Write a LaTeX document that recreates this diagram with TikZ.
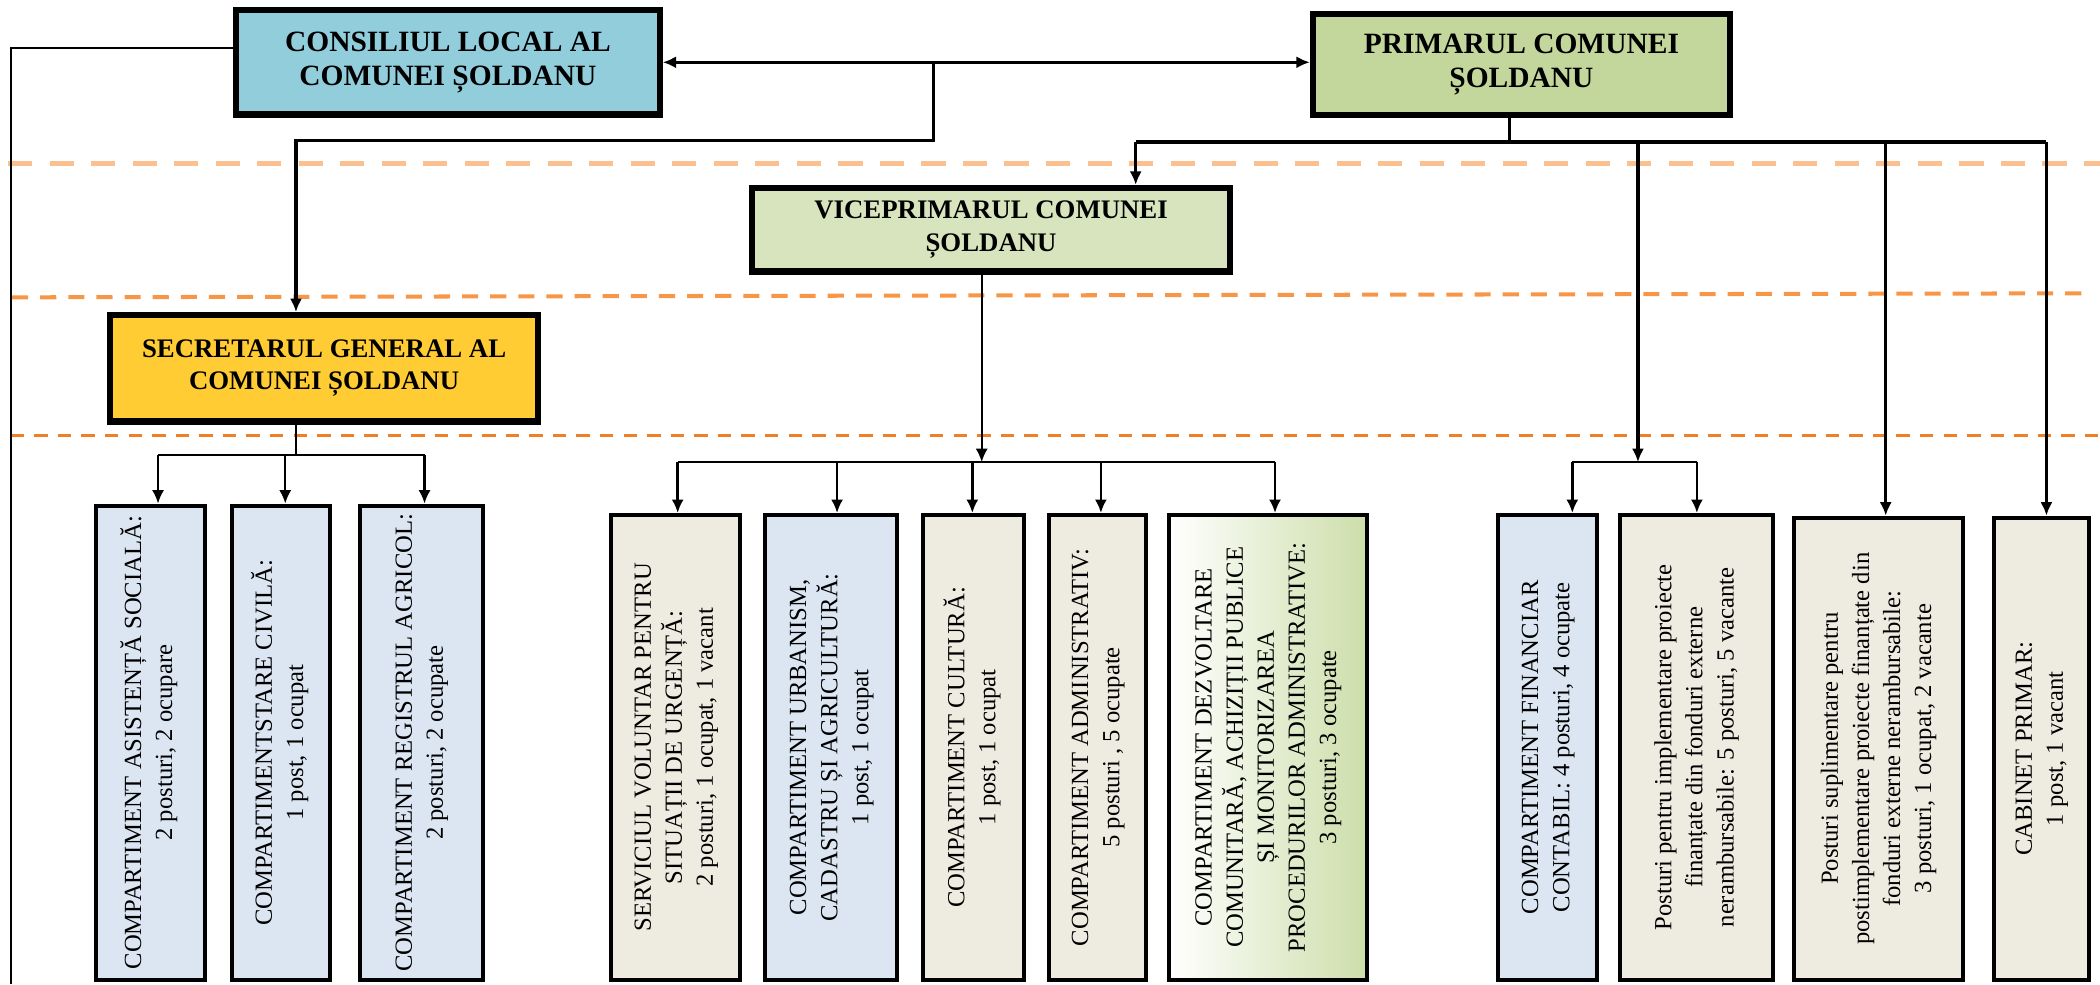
\documentclass[tikz,border=0pt]{standalone}
\usepackage{fontspec}
\setmainfont{Liberation Serif}
\usetikzlibrary{arrows.meta}
\definecolor{cConsiliu}{RGB}{146,205,220}
\definecolor{cPrimar}{RGB}{195,214,155}
\definecolor{cVice}{RGB}{215,228,189}
\definecolor{cSecretar}{RGB}{255,204,51}
\definecolor{cBlue}{RGB}{220,230,242}
\definecolor{cBeige}{RGB}{238,236,225}
\definecolor{cGreen}{RGB}{205,222,170}
\definecolor{sepA}{RGB}{250,192,144}
\definecolor{sepB}{RGB}{247,150,70}
\definecolor{sepC}{RGB}{240,128,40}

\begin{document}
\begin{tikzpicture}[x=0.5pt,y=-0.5pt,
  headbox/.style={draw, line width=2.3pt, inner sep=0pt, align=center},
  deptbox/.style={draw, line width=1.5pt, inner sep=0pt, font=\fontsize{9.2}{11.6}\selectfont},
  conn/.style={line width=1.2pt},
  arr/.style={-{Latex[length=5pt,width=4.5pt]}}]
\useasboundingbox (0,0) rectangle (1568,735);

% separators
\draw[line width=2pt, color=sepA, dash pattern=on 9pt off 6.5pt] (6,122) -- (1568,122);
\draw[line width=1.5pt, color=sepB, dash pattern=on 6pt off 4.5pt] (9,222) -- (1562,219);
\draw[line width=1pt, color=sepC, dash pattern=on 5pt off 3.8pt] (8,325) -- (1568,325);

% leadership
\node[headbox, fill=cConsiliu, minimum width=158pt, minimum height=39pt, font=\fontsize{11}{12.5}\selectfont\bfseries] (consiliu) at (334.5,46.5) {CONSILIUL LOCAL AL\\COMUNEI ȘOLDANU};
\node[headbox, fill=cPrimar, minimum width=155.7pt, minimum height=37.7pt, font=\fontsize{11}{12.5}\selectfont\bfseries] (primar) at (1136,48) {PRIMARUL COMUNEI\\ȘOLDANU};
\node[headbox, fill=cVice, minimum width=178.7pt, minimum height=31.2pt, font=\fontsize{10}{12.5}\selectfont\bfseries] (viceprimar) at (740,171.5) {VICEPRIMARUL COMUNEI\\ȘOLDANU};
\node[headbox, fill=cSecretar, minimum width=159.7pt, minimum height=39.7pt, font=\fontsize{10}{12}\selectfont\bfseries] (secretar) at (242,275) {SECRETARUL GENERAL AL\\COMUNEI ȘOLDANU};

% compartments under the secretary
\node[deptbox, fill=cBlue, minimum width=40.75pt, minimum height=177pt] (S1) at (112.25,554.5) {\rotatebox{90}{\begin{tabular}{@{}c@{}}COMPARTIMENT ASISTENȚĂ SOCIALĂ:\\2 posturi, 2 ocupare\end{tabular}}};
\node[deptbox, fill=cBlue, minimum width=36.5pt, minimum height=177pt] (S2) at (210,554.5) {\rotatebox{90}{\begin{tabular}{@{}c@{}}COMPARTIMENTSTARE CIVILĂ:\\1 post, 1 ocupat\end{tabular}}};
\node[deptbox, fill=cBlue, minimum width=46pt, minimum height=177pt] (S3) at (314.5,554.5) {\rotatebox{90}{\begin{tabular}{@{}c@{}}COMPARTIMENT REGISTRUL AGRICOL:\\2 posturi, 2 ocupate\end{tabular}}};

% compartments under the deputy mayor
\node[deptbox, fill=cBeige, minimum width=48pt, minimum height=173.5pt] (V1) at (504.5,558) {\rotatebox{90}{\begin{tabular}{@{}c@{}}SERVICIUL VOLUNTAR PENTRU\\SITUAȚII DE URGENȚĂ:\\2 posturi, 1 ocupat, 1 vacant\end{tabular}}};
\node[deptbox, fill=cBlue, minimum width=49pt, minimum height=173.5pt] (V2) at (620.5,558) {\rotatebox{90}{\begin{tabular}{@{}c@{}}COMPARTIMENT URBANISM,\\CADASTRU ȘI AGRICULTURĂ:\\1 post, 1 ocupat\end{tabular}}};
\node[deptbox, fill=cBeige, minimum width=37.5pt, minimum height=173.5pt] (V3) at (727,558) {\rotatebox{90}{\begin{tabular}{@{}c@{}}COMPARTIMENT CULTURĂ:\\1 post, 1 ocupat\end{tabular}}};
\node[deptbox, fill=cBeige, minimum width=36pt, minimum height=173.5pt] (V4) at (819.5,558) {\rotatebox{90}{\begin{tabular}{@{}c@{}}COMPARTIMENT ADMINISTRATIV:\\5 posturi , 5 ocupate\end{tabular}}};
\node[deptbox, left color=white, middle color=cGreen!80!white, right color=cGreen, minimum width=74pt, minimum height=173.5pt] (V5) at (946.5,558) {\rotatebox{90}{\begin{tabular}{@{}c@{}}COMPARTIMENT DEZVOLTARE\\COMUNITARĂ, ACHIZIȚII PUBLICE\\ȘI MONITORIZAREA\\PROCEDURILOR ADMINISTRATIVE:\\3 posturi, 3 ocupate\end{tabular}}};

% posts under the mayor
\node[deptbox, fill=cBlue, minimum width=37pt, minimum height=173.5pt] (P1) at (1155.5,558) {\rotatebox{90}{\begin{tabular}{@{}c@{}}COMPARTIMENT FINANCIAR\\CONTABIL: 4 posturi, 4 ocupate\end{tabular}}};
\node[deptbox, fill=cBeige, minimum width=57pt, minimum height=173.5pt] (P2) at (1266.5,558) {\rotatebox{90}{\begin{tabular}{@{}c@{}}Posturi pentru implementare proiecte\\finanțate din fonduri externe\\nerambursabile: 5 posturi, 5 vacante\end{tabular}}};
\node[deptbox, fill=cBeige, minimum width=63pt, minimum height=172.5pt] (P3) at (1402.5,559) {\rotatebox{90}{\begin{tabular}{@{}c@{}}Posturi suplimentare pentru\\postimplementare proiecte finanțate din\\fonduri externe nerambursabile:\\3 posturi, 1 ocupat, 2 vacante\end{tabular}}};
\node[deptbox, fill=cBeige, minimum width=35.5pt, minimum height=172.5pt] (P4) at (1524,559) {\rotatebox{90}{\begin{tabular}{@{}c@{}}CABINET PRIMAR:\\1 post, 1 vacant\end{tabular}}};

% council links
\coordinate (cl) at (8,36);
\coordinate (cb) at (8,735);
\coordinate (cv) at (697,105);
\draw[line width=0.8pt] (consiliu.west |- cl) -- (cl) -- (cb);
\draw[conn, {Latex[length=5pt,width=4.5pt]}-{Latex[length=5pt,width=4.5pt]}] (consiliu.east) -- (consiliu.east -| primar.west);
\draw[conn, arr] (cv |- consiliu.east) -- (cv) -| ([xshift=-10.5pt]secretar.north);

% mayor links
\coordinate (pd) at (1127,106);
\coordinate (pv) at (848,106);
\coordinate (pf) at (1223,106);
\coordinate (ps) at (1408,106);
\coordinate (pc) at (1528,106);
\coordinate (fj) at (1223,345);
\draw[conn] (pd |- primar.south) -- (pd);
\draw[conn] (pv) -- (pc);
\draw[conn, arr] (pv) -- (pv |- viceprimar.north);
\draw[conn, arr] (pf) -- (fj);
\draw[conn, arr] (ps) -- (ps |- P3.north);
\draw[conn, arr] (pc) -- (pc |- P4.north);

\coordinate (f1) at (1174,345);
\coordinate (f2) at (1267,345);
\draw[line width=0.9pt] (f1) -- (f2);
\draw[line width=0.9pt, arr] (f1) -- (f1 |- P1.north);
\draw[line width=0.9pt, arr] (f2) -- (f2 |- P2.north);

% secretary links
\coordinate (sj) at (221,340);
\coordinate (s1) at (118,340);
\coordinate (s2) at (213,340);
\coordinate (s3) at (317,340);
\draw[line width=0.8pt] (sj |- secretar.south) -- (sj);
\draw[line width=0.8pt] (s1) -- (s3);
\draw[line width=0.8pt, arr] (s1) -- (s1 |- S1.north);
\draw[line width=0.8pt, arr] (s2) -- (s2 |- S2.north);
\draw[line width=0.8pt, arr] (s3) -- (s3 |- S3.north);

% deputy mayor links
\coordinate (vj) at (733,345);
\coordinate (v1) at (506,345);
\coordinate (v2) at (625,345);
\coordinate (v3) at (726,345);
\coordinate (v4) at (822,345);
\coordinate (v5) at (952,345);
\draw[line width=0.7pt, arr] (vj |- viceprimar.south) -- (vj);
\draw[line width=0.9pt] (v1) -- (v5);
\draw[line width=0.9pt, arr] (v1) -- (v1 |- V1.north);
\draw[line width=0.9pt, arr] (v2) -- (v2 |- V2.north);
\draw[line width=0.9pt, arr] (v3) -- (v3 |- V3.north);
\draw[line width=0.9pt, arr] (v4) -- (v4 |- V4.north);
\draw[line width=0.9pt, arr] (v5) -- (v5 |- V5.north);
\end{tikzpicture}
\end{document}
